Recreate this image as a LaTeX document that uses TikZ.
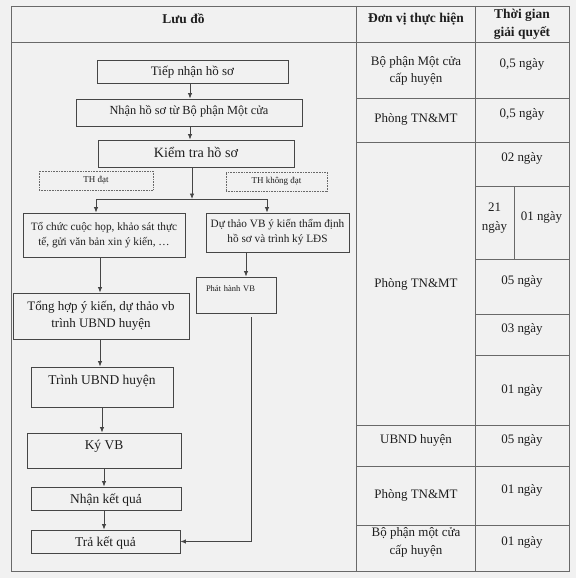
\documentclass[tikz,border=0pt]{standalone}
\usepackage{fontspec}
\setmainfont{Liberation Serif}
\usetikzlibrary{arrows.meta}
\definecolor{bg}{RGB}{241,241,241}
\definecolor{lc}{RGB}{70,70,70}
\definecolor{tl}{RGB}{105,105,105}
\definecolor{tc}{RGB}{30,30,30}
\newcommand{\fs}[2]{\fontsize{#1}{#2}\selectfont}
\begin{document}
\begin{tikzpicture}[x=1bp,y=-1bp,
  box/.style={draw=lc, line width=0.85pt, inner sep=0pt, text=tc},
  dotbox/.style={draw=tl, densely dotted, line width=0.6pt, inner sep=0pt, text=tc, font=\fs{9}{11}},
  cell/.style={inner sep=0pt, text=tc, align=center},
  hdr/.style={cell, font=\bfseries\fs{13.5}{18}},
  tline/.style={draw=tl, line width=0.7pt},
  arr/.style={draw=lc, line width=0.85pt, -{Latex[length=5.5bp,width=4.5bp]}},
  conn/.style={draw=lc, line width=0.85pt}]
\fill[bg] (0,0) rectangle (576,578);
\useasboundingbox (0,0) rectangle (576,578);
% table
\draw[tline] (11,6) rectangle (569,571);
\draw[tline] (11,42) -- (569,42);
\draw[tline] (356,6) -- (356,571);
\draw[tline] (475,6) -- (475,571);
\foreach \yy in {98,142,425,466,525} \draw[tline] (356,\yy) -- (569,\yy);
\foreach \yy in {186,259,314,355} \draw[tline] (475,\yy) -- (569,\yy);
\draw[tline] (514,186) -- (514,259);
% headers
\node[hdr] (h1) at (183.5,19) {Lưu đồ};
\node[hdr] (h2) at (416,19) {Đơn vị thực hiện};
\node[hdr] (h3) at (522,24) {Thời gian\\giải quyết};
% unit column
\node[cell, font=\fs{13}{17}] (u1) at (416,70.5) {Bộ phận Một cửa\\cấp huyện};
\node[cell, font=\fs{13}{17}] (u2) at (416,119) {Phòng TN\&MT};
\node[cell, font=\fs{13}{17}] (u3) at (416,284) {Phòng TN\&MT};
\node[cell, font=\fs{13}{17}] (u4) at (416,440) {UBND huyện};
\node[cell, font=\fs{13}{17}] (u5) at (416,495) {Phòng TN\&MT};
\node[cell, font=\fs{13}{18}] (u6) at (416,542) {Bộ phận một cửa\\cấp huyện};
% time column
\node[cell, font=\fs{13}{17}] (t1) at (522,64) {0,5 ngày};
\node[cell, font=\fs{13}{17}] (t2) at (522,114) {0,5 ngày};
\node[cell, font=\fs{13}{17}] (t3) at (522,158) {02 ngày};
\node[cell, font=\fs{13}{19}] (t4) at (494.5,218) {21\\ngày};
\node[cell, font=\fs{13}{17}] (t5) at (541.5,217) {01 ngày};
\node[cell, font=\fs{13}{17}] (t6) at (522,281) {05 ngày};
\node[cell, font=\fs{13}{17}] (t7) at (522,329) {03 ngày};
\node[cell, font=\fs{13}{17}] (t8) at (522,390) {01 ngày};
\node[cell, font=\fs{13}{17}] (t9) at (522,440) {05 ngày};
\node[cell, font=\fs{13}{17}] (t10) at (522,490) {01 ngày};
\node[cell, font=\fs{13}{17}] (t11) at (522,542) {01 ngày};
% flowchart
\node[box, font=\fs{13}{16}, minimum width=191bp, text height=16bp, text depth=7bp] (b1) at (192.5,71.5) {Tiếp nhận hồ sơ};
\node[box, font=\fs{12.4}{15}, minimum width=226bp, text height=15.5bp, text depth=11.5bp] (b2) at (189,112.5) {Nhận hồ sơ từ Bộ phận Một cửa};
\node[box, font=\fs{14.2}{17}, minimum width=196bp, text height=18bp, text depth=9bp] (b3) at (196,153.5) {Kiểm tra hồ sơ};
\node[dotbox, minimum width=114bp, minimum height=19bp] (d1) at (96,180.5) {TH đạt};
\node[dotbox, minimum width=101bp, minimum height=19bp] (d2) at (276.5,181.5) {TH không đạt};
\node[box, font=\fs{11.3}{15}, align=center, minimum width=162bp, minimum height=44bp] (b4) at (104,235) {Tổ chức cuộc họp, khảo sát thực\\tế, gửi văn bản xin ý kiến, …};
\node[box, font=\fs{11.3}{15}, align=center, minimum width=143bp, minimum height=39bp] (b5) at (277.5,232.5) {Dự thảo VB ý kiến thẩm định\\hồ sơ và trình ký LĐS};
\node[box, font=\fs{8.5}{10}, inner xsep=10bp, text width=60bp, align=left, text height=14bp, text depth=22bp] (b6) at (236,295) {Phát hành VB};
\node[box, font=\fs{13}{17}, align=center, minimum width=176bp, minimum height=46bp] (b7) at (101,316) {Tổng hợp ý kiến, dự thảo vb\\trình UBND huyện};
\node[box, font=\fs{13.5}{16}, minimum width=142bp, text height=17.6bp, text depth=22.4bp] (b8) at (102,387) {Trình UBND huyện};
\node[box, font=\fs{13.5}{16}, minimum width=154bp, text height=16.5bp, text depth=18.5bp] (b9) at (104,450.5) {Ký VB};
\node[box, font=\fs{13.5}{16}, minimum width=150bp, text height=16.5bp, text depth=6.5bp] (b10) at (106,498.5) {Nhận kết quả};
\node[box, font=\fs{13.5}{16}, minimum width=149bp, text height=16.5bp, text depth=6.5bp] (b11) at (105.5,541.5) {Trả kết quả};
% connectors
\coordinate (j) at (192,199);
\coordinate (ja) at (96,199);
\coordinate (jb) at (267,199);
\coordinate (c6) at (251,317);
\draw[arr] (b1.south -| 190,0) -- (b2.north -| 190,0);
\draw[arr] (b2.south -| 190,0) -- (b3.north -| 190,0);
\draw[arr] (b3.south -| j) -- (j);
\draw[conn] (ja) -- (jb);
\draw[arr] (ja) -- (ja |- b4.north);
\draw[arr] (jb) -- (jb |- b5.north);
\draw[arr] (b5.south -| 246,0) -- (b6.north -| 246,0);
\draw[arr] (b4.south -| 100,0) -- (b7.north -| 100,0);
\draw[arr] (b7.south -| 100,0) -- (b8.north -| 100,0);
\draw[arr] (b8.south -| 102,0) -- (b9.north -| 102,0);
\draw[arr] (b9.south -| 104,0) -- (b10.north -| 104,0);
\draw[arr] (b10.south -| 104,0) -- (b11.north -| 104,0);
\draw[arr] (c6) |- (b11.east);
\end{tikzpicture}
\end{document}
